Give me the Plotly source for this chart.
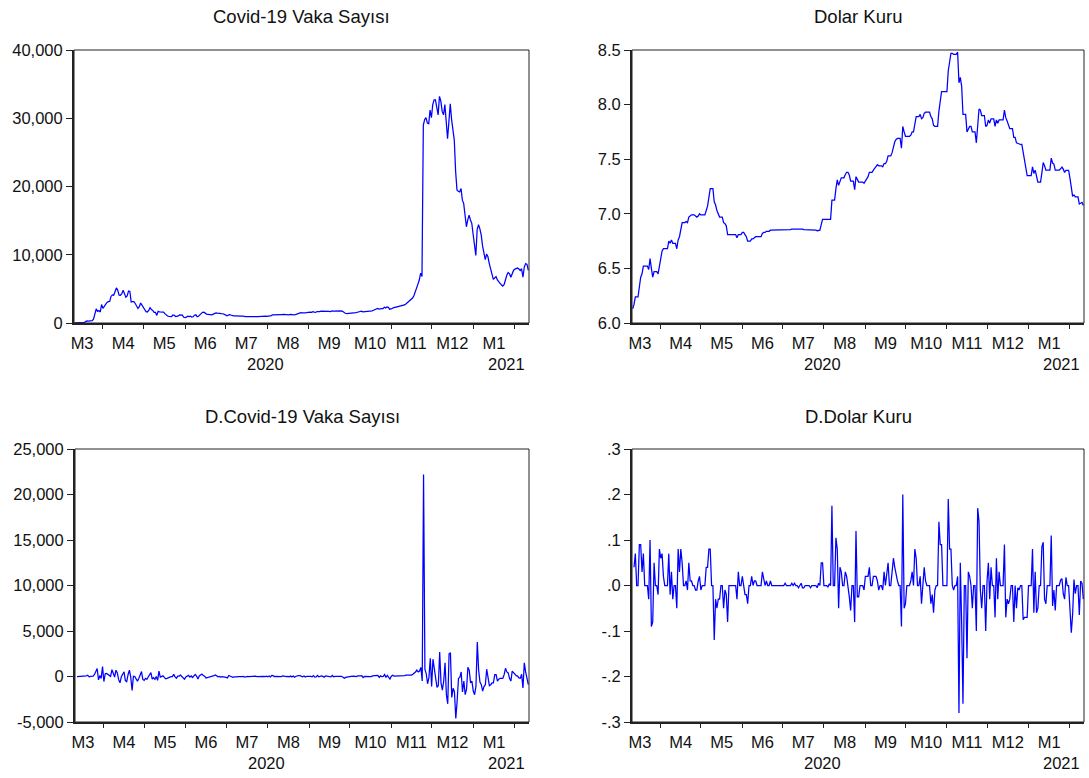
import numpy as np
import pandas as pd
import plotly.graph_objects as go

# ---------------- data (daily, 11 Mar 2020 - 11 Feb 2021) ----------------
start_date = "2020-03-11"

covid_mar = [1, 0, 4, 1, 12, 29, 51, 93, 168, 311, 277, 289, 293, 343, 561, 1196, 2069, 1704, 1815, 1610, 2704]
covid_apr = [2148, 2456, 2786, 3013, 3135, 3148, 3892, 4117, 4056, 4747, 5138, 4789, 4093, 4062, 4281,
             4801, 4353, 3783, 3977, 4674, 4611, 3083, 3116, 3122, 2861, 2357, 2131, 2392, 2936, 2615]
covid_may = [2188, 1983, 1670, 1614, 1832, 2253, 1977, 1848, 1546, 1542, 1114, 1704, 1639, 1635, 1708, 1610,
             1368, 1158, 1022, 972, 961, 952, 1186, 1141, 948, 987, 1035, 1182, 1186, 1141, 839]
covid_jun = [786, 867, 988, 930, 988, 878, 914, 1141, 1195, 922, 987, 1195, 1459, 1562, 1592, 1429, 1304,
             1248, 1214, 1212, 1192, 1293, 1458, 1492, 1458, 1463, 1396, 1374, 1356, 1293]
covid_jul = [1192, 1041, 1148, 1214, 1172, 1086, 1053, 1054, 1024, 1001, 1016, 1008, 992, 1008, 933, 918,
             926, 912, 918, 917, 909, 914, 942, 927, 926, 949, 919, 963, 982, 967, 993]
covid_aug = [962, 1012, 959, 1083, 1178, 1172, 1195, 1198, 1210, 1203, 1183, 1243, 1256, 1227, 1226, 1238,
             1209, 1256, 1212, 1263, 1192, 1218, 1309, 1412, 1502, 1517, 1494, 1549, 1495, 1517, 1572]
covid_sep = [1596, 1609, 1572, 1671, 1596, 1552, 1675, 1648, 1661, 1726, 1740, 1658, 1716, 1742, 1771, 1704,
             1660, 1771, 1737, 1759, 1792, 1767, 1742, 1761, 1782, 1705, 1524, 1430, 1391, 1401]
covid_oct = [1391, 1412, 1467, 1502, 1524, 1511, 1578, 1607, 1663, 1742, 1629, 1638, 1636, 1691, 1691, 1704,
             1699, 1769, 1861, 1927, 2019, 2136, 2030, 2103, 2102, 2109, 2321, 2212, 2343, 2301, 2022]
covid_nov = [2060, 2200, 2250, 2300, 2350, 2400, 2430, 2450, 2500, 2550, 2650, 2800, 2950, 3100, 3250, 3400,
             3650, 4000, 4500, 5200, 5700, 6300, 7300, 6800, 29000, 29800, 30100, 29300, 29200, 31200]
covid_dec = [30100, 32000, 32700, 32700, 31500, 30500, 33200, 32500, 31000, 30500, 32000, 30000, 27000, 29500,
             32100, 29800, 28500, 26800, 22200, 19500, 19300, 19200, 19700, 18000, 17500, 15500, 14100, 15100,
             15800, 15100, 14600]
covid_jan = [13000, 11000, 9900, 13700, 14400, 13800, 12900, 11300, 10200, 9300, 10100, 9700, 8700, 7800, 7100,
             6400, 6600, 6800, 6300, 6000, 5800, 5600, 5400, 5600, 6500, 7000, 7400, 7200, 6700, 7300, 7700]
covid_feb = [7900, 8000, 8050, 7900, 7700, 7950, 6700, 8200, 8700, 8600, 7700]

dolar_mar = [6.13, 6.17, 6.24, 6.24, 6.24, 6.33, 6.42, 6.45, 6.52, 6.52, 6.52, 6.52, 6.49, 6.59, 6.50, 6.42,
             6.47, 6.47, 6.47, 6.45, 6.53]
dolar_apr = [6.59, 6.66, 6.68, 6.68, 6.68, 6.68, 6.75, 6.73, 6.76, 6.73, 6.73, 6.73, 6.68, 6.76, 6.79, 6.87,
             6.92, 6.92, 6.92, 6.93, 6.92, 6.97, 6.98, 6.99, 6.99, 6.99, 6.98, 6.97, 6.98, 7.00]
dolar_may = [6.99, 6.99, 6.99, 6.99, 7.03, 7.07, 7.15, 7.23, 7.23, 7.23, 7.11, 7.08, 7.03, 7.00, 6.97, 6.97,
             6.97, 6.92, 6.91, 6.89, 6.81, 6.81, 6.81, 6.81, 6.81, 6.81, 6.81, 6.78, 6.81, 6.81, 6.81]
dolar_jun = [6.83, 6.83, 6.81, 6.79, 6.75, 6.75, 6.75, 6.77, 6.77, 6.78, 6.79, 6.79, 6.79, 6.79, 6.79, 6.82,
             6.83, 6.83, 6.84, 6.84, 6.84, 6.85, 6.85, 6.85, 6.85, 6.85, 6.85, 6.85, 6.85, 6.85]
dolar_jul = [6.85, 6.85, 6.855, 6.855, 6.855, 6.855, 6.855, 6.86, 6.86, 6.865, 6.865, 6.865, 6.86, 6.86, 6.865,
             6.86, 6.855, 6.855, 6.855, 6.855, 6.855, 6.85, 6.85, 6.85, 6.85, 6.85, 6.845, 6.85, 6.85, 6.90, 6.95]
dolar_aug = [6.95, 6.95, 6.95, 6.947, 6.95, 6.95, 7.125, 7.125, 7.125, 7.23, 7.31, 7.26, 7.30, 7.33, 7.33, 7.33,
             7.36, 7.38, 7.38, 7.355, 7.30, 7.30, 7.30, 7.22, 7.34, 7.315, 7.29, 7.29, 7.29, 7.29, 7.28]
dolar_sep = [7.30, 7.32, 7.34, 7.38, 7.38, 7.38, 7.40, 7.42, 7.44, 7.45, 7.44, 7.44, 7.44, 7.43, 7.46, 7.46,
             7.48, 7.53, 7.53, 7.53, 7.56, 7.62, 7.66, 7.68, 7.69, 7.69, 7.69, 7.60, 7.80, 7.75]
dolar_oct = [7.71, 7.71, 7.71, 7.71, 7.72, 7.75, 7.75, 7.83, 7.89, 7.89, 7.89, 7.91, 7.87, 7.88, 7.92, 7.93,
             7.93, 7.93, 7.93, 7.89, 7.87, 7.81, 7.80, 7.80, 7.80, 7.94, 8.03, 8.12, 8.12, 8.12, 8.12]
dolar_nov = [8.12, 8.31, 8.39, 8.47, 8.47, 8.46, 8.46, 8.46, 8.48, 8.20, 8.25, 8.17, 7.91, 7.91, 7.91, 7.75,
             7.78, 7.80, 7.80, 7.75, 7.75, 7.75, 7.65, 7.82, 7.96, 7.95, 7.90, 7.90, 7.90, 7.80]
dolar_dec = [7.81, 7.86, 7.83, 7.87, 7.87, 7.87, 7.80, 7.86, 7.83, 7.86, 7.86, 7.86, 7.86, 7.95, 7.88, 7.85,
             7.81, 7.78, 7.78, 7.78, 7.70, 7.70, 7.65, 7.645, 7.635, 7.635, 7.635, 7.56, 7.49, 7.42, 7.35]
dolar_jan = [7.35, 7.35, 7.35, 7.43, 7.37, 7.40, 7.34, 7.29, 7.29, 7.29, 7.375, 7.47, 7.44, 7.40, 7.40, 7.40,
             7.40, 7.51, 7.465, 7.455, 7.40, 7.40, 7.40, 7.40, 7.412, 7.427, 7.409, 7.379, 7.397, 7.397, 7.397]
dolar_feb = [7.327, 7.223, 7.16, 7.173, 7.155, 7.155, 7.155, 7.09, 7.10, 7.105, 7.075]

covid = np.array(covid_mar + covid_apr + covid_may + covid_jun + covid_jul + covid_aug + covid_sep +
                 covid_oct + covid_nov + covid_dec + covid_jan + covid_feb, dtype=float)
dolar = np.array(dolar_mar + dolar_apr + dolar_may + dolar_jun + dolar_jul + dolar_aug + dolar_sep +
                 dolar_oct + dolar_nov + dolar_dec + dolar_jan + dolar_feb, dtype=float)
dates = pd.date_range(start_date, periods=len(covid), freq="D")

# first differences (the "D." operator)
d_covid = np.diff(covid)
d_dolar = np.diff(dolar)
d_dates = dates[1:]

titles = ["Covid-19 Vaka Sayısı", "Dolar Kuru", "D.Covid-19 Vaka Sayısı", "D.Dolar Kuru"]
y_ranges = [[0, 40000], [6.0, 8.5], [-5000, 25000], [-0.3, 0.3]]
y_tickvals = [[0, 10000, 20000, 30000, 40000],
              [6.0, 6.5, 7.0, 7.5, 8.0, 8.5],
              [-5000, 0, 5000, 10000, 15000, 20000, 25000],
              [-0.3, -0.2, -0.1, 0.0, 0.1, 0.2, 0.3]]
y_ticktext = [["0", "10,000", "20,000", "30,000", "40,000"],
              ["6.0", "6.5", "7.0", "7.5", "8.0", "8.5"],
              ["-5,000", "0", "5,000", "10,000", "15,000", "20,000", "25,000"],
              ["-.3", "-.2", "-.1", ".0", ".1", ".2", ".3"]]
year_labels = ["2020", "2021"]

# ---------------- layout geometry (pixels) ----------------
W, H = 1089, 778
boxes = [(74, 529, 50, 323), (632, 1084, 50, 323), (75, 529, 449, 722), (632, 1084, 449, 722)]

FONT = "Liberation Sans, Arial, sans-serif"
BLUE = "#0000FF"
TXT = "#111111"
TICK_SIZE = 16.5
TITLE_SIZE = 18.5

fig = go.Figure()
series = [(dates, covid), (dates, dolar), (d_dates, d_covid), (d_dates, d_dolar)]
for k, (xs, ys) in enumerate(series):
    sfx = "" if k == 0 else str(k + 1)
    fig.add_trace(go.Scatter(x=xs, y=ys, mode="lines", line=dict(color=BLUE, width=1.25),
                             xaxis="x" + sfx, yaxis="y" + sfx, showlegend=False, hoverinfo="x+y"))

x_range = ["2020-03-10 12:00", "2021-02-11 12:00"]
layout = dict(width=W, height=H, margin=dict(l=0, r=0, t=0, b=0, pad=0, autoexpand=False), autosize=False,
              paper_bgcolor="white", plot_bgcolor="white", showlegend=False,
              font=dict(family=FONT, color=TXT, size=TICK_SIZE))
shapes, annotations = [], []
for k, (x0, x1, yt, yb) in enumerate(boxes):
    sfx = "" if k == 0 else str(k + 1)
    layout["xaxis" + sfx] = dict(
        domain=[x0 / W, x1 / W], anchor="y" + sfx, type="date", range=x_range,
        tick0="2020-03-01", dtick="M1", ticklabelmode="period", tickformat="M%-m",
        ticks="outside", ticklen=4, tickwidth=1, tickcolor="#222222",
        showline=True, linecolor="#222222", linewidth=2, showgrid=False, zeroline=False,
        automargin=False, tickfont=dict(family=FONT, size=TICK_SIZE, color=TXT), fixedrange=True)
    layout["yaxis" + sfx] = dict(
        domain=[1 - yb / H, 1 - yt / H], anchor="x" + sfx, range=y_ranges[k],
        tickmode="array", tickvals=y_tickvals[k], ticktext=y_ticktext[k],
        ticks="outside", ticklen=6, tickwidth=1, tickcolor="#222222",
        showline=True, linecolor="#222222", linewidth=2, showgrid=False, zeroline=False,
        automargin=False, tickfont=dict(family=FONT, size=TICK_SIZE, color=TXT), fixedrange=True)
    shapes.append(dict(type="rect", xref="x" + sfx + " domain", yref="y" + sfx + " domain",
                       x0=0, x1=1, y0=0, y1=1, line=dict(color="#222222", width=1), layer="above"))
    annotations.append(dict(text=titles[k], xref="x" + sfx + " domain", yref="y" + sfx + " domain",
                            x=0.5, y=1, yshift=33, xanchor="center", yanchor="middle", showarrow=False,
                            font=dict(family=FONT, size=TITLE_SIZE, color=TXT)))
    annotations.append(dict(text=year_labels[0], xref="x" + sfx, yref="y" + sfx + " domain",
                            x="2020-07-31", y=0, yshift=-41, xanchor="center", yanchor="middle",
                            showarrow=False, font=dict(family=FONT, size=TICK_SIZE, color=TXT)))
    annotations.append(dict(text=year_labels[1], xref="x" + sfx + " domain", yref="y" + sfx + " domain",
                            x=1, y=0, xshift=-2, yshift=-41, xanchor="right", yanchor="middle",
                            showarrow=False, font=dict(family=FONT, size=TICK_SIZE, color=TXT)))

layout["shapes"] = shapes
layout["annotations"] = annotations
fig.update_layout(**layout)
fig.write_html("out.html", config={"responsive": False, "displayModeBar": False},
               post_script="document.body.style.margin='0';document.body.style.overflow='hidden';")
